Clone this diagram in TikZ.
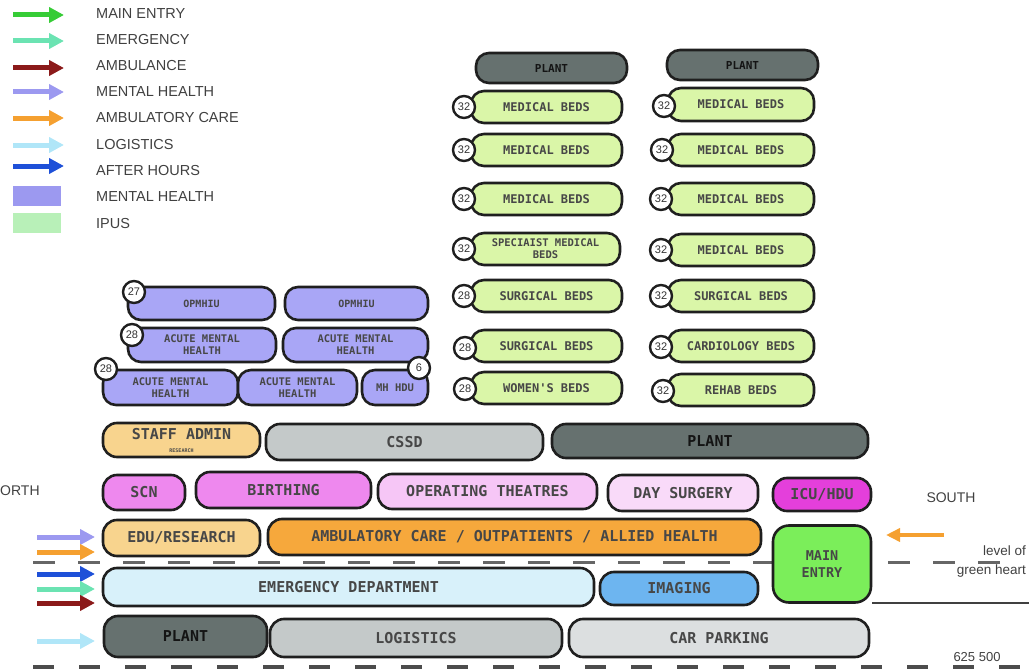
\documentclass[tikz,border=0pt]{standalone}
\usepackage{fontspec}
\setmainfont{Liberation Sans}
\newfontfamily\monof{DejaVu Sans Mono}
\usetikzlibrary{arrows.meta}
\definecolor{cMH}{HTML}{A9A6F6}
\definecolor{cBed}{HTML}{DAF6A8}
\definecolor{cPlant}{HTML}{66716F}
\definecolor{cGray}{HTML}{C4C9C9}
\definecolor{cCar}{HTML}{DCDFE0}
\definecolor{cTan}{HTML}{F8D48E}
\definecolor{cPink}{HTML}{EE88EE}
\definecolor{cPinkL}{HTML}{F6C6F6}
\definecolor{cPinkLL}{HTML}{F9DAF9}
\definecolor{cMag}{HTML}{E43FDB}
\definecolor{cAmb}{HTML}{F6A83C}
\definecolor{cMain}{HTML}{7BEE5A}
\definecolor{cED}{HTML}{D8F1FA}
\definecolor{cImg}{HTML}{6DB5F0}
\definecolor{aMain}{HTML}{36CC36}
\definecolor{aEmer}{HTML}{6BE3B2}
\definecolor{aAmbu}{HTML}{8B1A1A}
\definecolor{aMH}{HTML}{9C99F0}
\definecolor{aAmbC}{HTML}{F5A030}
\definecolor{aLog}{HTML}{B0E6F8}
\definecolor{aAft}{HTML}{1E50D8}
\definecolor{lIPUS}{HTML}{B8F0B8}
\tikzset{
  box/.style={draw=black!88, line width=2.6pt, rounded corners=14pt, inner sep=0pt,
    align=center, text=black!72, font=\monof\bfseries\fontsize{15}{16}\selectfont},
  bedbox/.style={box, rounded corners=13pt, font=\monof\bfseries\fontsize{12}{12.5}\selectfont},
  dark/.style={text=black!92},
  badge/.style={circle, draw=black!88, line width=2.4pt, fill=white, minimum size=22pt,
    inner sep=0pt, text=black!80, font=\fontsize{11}{11}\selectfont},
  legarrow/.style={line width=5pt, -{Triangle[length=15pt,width=15pt]}},
  legtext/.style={anchor=west, inner sep=0pt, text=black!75, font=\fontsize{14.5}{15}\selectfont},
  sidetext/.style={inner sep=0pt, text=black!75, font=\fontsize{14}{15}\selectfont},
}
\newcommand\pbox[7][box]{%
  \node[#1, fill=#7, minimum width={#5pt-#3pt}, minimum height={#6pt-#4pt}]
    (#2) at ({(#3+#5)/2},{(#4+#6)/2})}
\begin{document}
\begin{tikzpicture}[x=1pt,y=-1pt]
\useasboundingbox (0,0) rectangle (1029,669);
% ---------- legend ----------
\coordinate (l1a) at (13,15); \coordinate (l1b) at (64,15);
\coordinate (l2a) at (13,41); \coordinate (l2b) at (64,41);
\coordinate (l3a) at (13,68); \coordinate (l3b) at (64,68);
\coordinate (l4a) at (13,92); \coordinate (l4b) at (64,92);
\coordinate (l5a) at (13,118); \coordinate (l5b) at (64,118);
\coordinate (l6a) at (13,145); \coordinate (l6b) at (64,145);
\coordinate (l7a) at (13,166); \coordinate (l7b) at (64,166);
\draw[legarrow, aMain] (l1a) -- (l1b);
\draw[legarrow, aEmer] (l2a) -- (l2b);
\draw[legarrow, aAmbu] (l3a) -- (l3b);
\draw[legarrow, aMH] (l4a) -- (l4b);
\draw[legarrow, aAmbC] (l5a) -- (l5b);
\draw[legarrow, aLog] (l6a) -- (l6b);
\draw[legarrow, aAft] (l7a) -- (l7b);
\node[legtext] (t1) at (96,14) {MAIN ENTRY};
\node[legtext] (t2) at (96,40) {EMERGENCY};
\node[legtext] (t3) at (96,66) {AMBULANCE};
\node[legtext] (t4) at (96,92) {MENTAL HEALTH};
\node[legtext] (t5) at (96,118) {AMBULATORY CARE};
\node[legtext] (t6) at (96,145) {LOGISTICS};
\node[legtext] (t7) at (96,171) {AFTER HOURS};
\node[legtext] (t8) at (96,197) {MENTAL HEALTH};
\node[legtext] (t9) at (96,224) {IPUS};
\fill[aMH] (13,186) rectangle (61,206);
\fill[lIPUS] (13,213) rectangle (61,233);
% ---------- dashed level lines (behind boxes) ----------
\coordinate (d1a) at (33,562); \coordinate (d1b) at (1010,562);
\draw[black!60, line width=3pt, dash pattern=on 22pt off 23pt] (d1a) -- (d1b);
\coordinate (d2a) at (33,667); \coordinate (d2b) at (1029,667);
\draw[black!70, line width=4pt, dash pattern=on 21pt off 25pt] (d2a) -- (d2b);
\coordinate (s1a) at (872,603); \coordinate (s1b) at (1029,603);
\draw[black!75, line width=1.6pt] (s1a) -- (s1b);
% ---------- IPU towers ----------
\pbox[bedbox,dark,font=\monof\bfseries\fontsize{11}{12}\selectfont]{pl1}{476}{53}{627}{83}{cPlant} {PLANT};
\pbox[bedbox,dark,font=\monof\bfseries\fontsize{11}{12}\selectfont]{pl2}{667}{50}{818}{80}{cPlant} {PLANT};
\pbox[bedbox]{a1}{471}{91}{622}{123}{cBed} {MEDICAL BEDS};
\pbox[bedbox]{a2}{471}{134}{622}{166}{cBed} {MEDICAL BEDS};
\pbox[bedbox]{a3}{471}{183}{622}{215}{cBed} {MEDICAL BEDS};
\pbox[bedbox, font=\monof\bfseries\fontsize{10.5}{12}\selectfont]{a4}{471}{233}{620}{265}{cBed} {SPECIAIST MEDICAL\\BEDS};
\pbox[bedbox]{a5}{471}{280}{622}{312}{cBed} {SURGICAL BEDS};
\pbox[bedbox]{a6}{471}{330}{622}{362}{cBed} {SURGICAL BEDS};
\pbox[bedbox]{a7}{471}{372}{622}{404}{cBed} {WOMEN'S BEDS};
\pbox[bedbox]{b1}{668}{88}{814}{121}{cBed} {MEDICAL BEDS};
\pbox[bedbox]{b2}{668}{134}{814}{166}{cBed} {MEDICAL BEDS};
\pbox[bedbox]{b3}{668}{183}{814}{215}{cBed} {MEDICAL BEDS};
\pbox[bedbox]{b4}{668}{234}{814}{266}{cBed} {MEDICAL BEDS};
\pbox[bedbox]{b5}{668}{280}{814}{312}{cBed} {SURGICAL BEDS};
\pbox[bedbox]{b6}{668}{330}{814}{362}{cBed} {CARDIOLOGY BEDS};
\pbox[bedbox]{b7}{668}{374}{814}{406}{cBed} {REHAB BEDS};
\node[badge] (ba1) at (464,107) {32};
\node[badge] (ba2) at (464,150) {32};
\node[badge] (ba3) at (464,199) {32};
\node[badge] (ba4) at (464,249) {32};
\node[badge] (ba5) at (464,296) {28};
\node[badge] (ba6) at (465,348) {28};
\node[badge] (ba7) at (465,389) {28};
\node[badge] (bb1) at (664,106) {32};
\node[badge] (bb2) at (662,150) {32};
\node[badge] (bb3) at (661,199) {32};
\node[badge] (bb4) at (661,250) {32};
\node[badge] (bb5) at (661,296) {32};
\node[badge] (bb6) at (661,347) {32};
\node[badge] (bb7) at (663,391) {32};
% ---------- mental health ----------
\tikzset{mhbox/.style={bedbox, font=\monof\bfseries\fontsize{10.5}{12}\selectfont}}
\pbox[mhbox]{m1}{128}{287}{275}{320}{cMH} {\fontsize{10}{10}\selectfont OPMHIU};
\pbox[mhbox]{m2}{285}{287}{428}{320}{cMH} {\fontsize{10}{10}\selectfont OPMHIU};
\pbox[mhbox]{m3}{128}{328}{276}{362}{cMH} {ACUTE MENTAL\\HEALTH};
\pbox[mhbox]{m4}{283}{328}{428}{362}{cMH} {ACUTE MENTAL\\HEALTH};
\pbox[mhbox]{m5}{103}{370}{238}{405}{cMH} {ACUTE MENTAL\\HEALTH};
\pbox[mhbox]{m6}{238}{370}{357}{405}{cMH} {ACUTE MENTAL\\HEALTH};
\pbox[mhbox]{m7}{362}{370}{428}{405}{cMH} {MH HDU};
\node[badge] (bm1) at (134,292) {27};
\node[badge] (bm3) at (132,335) {28};
\node[badge] (bm5) at (106,369) {28};
\node[badge] (bm7) at (419,368) {6};
% ---------- podium ----------
\pbox{r1a}{103}{423}{260}{457}{cTan} {STAFF ADMIN\\[-3pt]{\fontsize{5}{5}\selectfont RESEARCH}};
\pbox{r1b}{266}{424}{543}{460}{cGray} {CSSD};
\pbox[box,dark]{r1c}{552}{424}{868}{458}{cPlant} {PLANT};
\pbox{r2a}{103}{475}{185}{510}{cPink} {SCN};
\pbox{r2b}{196}{472}{371}{508}{cPink} {BIRTHING};
\pbox{r2c}{378}{474}{597}{509}{cPinkL} {OPERATING THEATRES};
\pbox{r2d}{608}{475}{758}{511}{cPinkLL} {DAY SURGERY};
\pbox{r2e}{773}{478}{871}{511}{cMag} {ICU/HDU};
\pbox{r3a}{103}{520}{260}{556}{cTan} {EDU/RESEARCH};
\pbox{r3b}{268}{519}{761}{555}{cAmb} {AMBULATORY CARE / OUTPATIENTS / ALLIED HEALTH};
\pbox{r4a}{103}{568}{594}{606}{cED} {EMERGENCY DEPARTMENT};
\pbox{r4b}{600}{572}{758}{605}{cImg} {IMAGING};
\node[box, rounded corners=16pt, fill=cMain, minimum width=98pt, minimum height=77pt,
  font=\monof\bfseries\fontsize{13.5}{17}\selectfont] (main) at (822,564) {MAIN\\ENTRY};
\pbox[box,dark]{r5a}{104}{616}{267}{657}{cPlant} {PLANT};
\pbox{r5b}{270}{619}{562}{657}{cGray} {LOGISTICS};
\pbox{r5c}{569}{619}{869}{657}{cCar} {CAR PARKING};
% ---------- side arrows ----------
\coordinate (e1a) at (37,537); \coordinate (e1b) at (95,537);
\coordinate (e2a) at (37,552); \coordinate (e2b) at (95,552);
\coordinate (e3a) at (37,574); \coordinate (e3b) at (95,574);
\coordinate (e4a) at (37,589); \coordinate (e4b) at (95,589);
\coordinate (e5a) at (37,603); \coordinate (e5b) at (95,603);
\coordinate (e6a) at (37,641); \coordinate (e6b) at (95,641);
\draw[legarrow, aMH] (e1a) -- (e1b);
\draw[legarrow, aAmbC] (e2a) -- (e2b);
\draw[legarrow, aAft] (e3a) -- (e3b);
\draw[legarrow, aEmer] (e4a) -- (e4b);
\draw[legarrow, aAmbu] (e5a) -- (e5b);
\draw[legarrow, aLog] (e6a) -- (e6b);
\coordinate (o1a) at (944,535); \coordinate (o1b) at (886,535);
\draw[line width=4pt, aAmbC, -{Triangle[length=14pt,width=13pt]}] (o1a) -- (o1b);
% ---------- side labels ----------
\node[sidetext, anchor=west] (north) at (0,491) {ORTH};
\node[sidetext] (south) at (951,498) {SOUTH};
\node[sidetext, anchor=east, font=\fontsize{13.5}{14}\selectfont] (lev1) at (1026,551) {level of};
\node[sidetext, anchor=east, font=\fontsize{13.5}{14}\selectfont] (lev2) at (1026,571) {green heart};
\node[sidetext, font=\fontsize{13}{13}\selectfont] (alt) at (977,657) {625 500};
\end{tikzpicture}
\end{document}
